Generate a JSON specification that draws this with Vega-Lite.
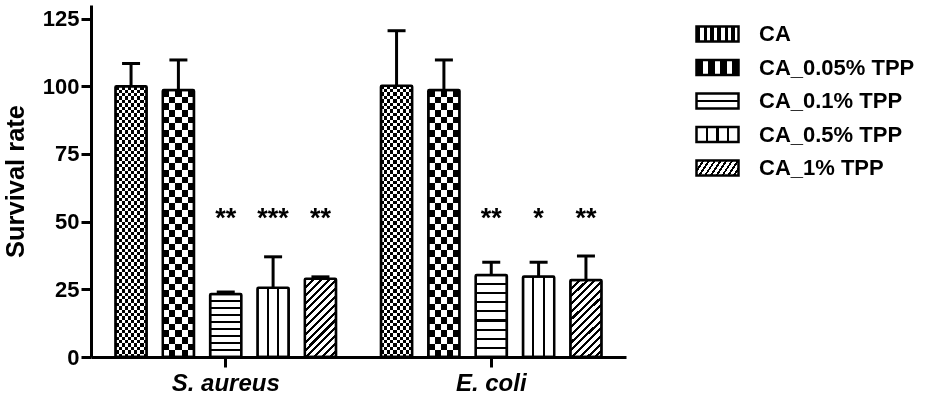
{
  "$schema": "https://vega.github.io/schema/vega-lite/v6.json",
  "width": 535,
  "height": 352,
  "autosize": "none",
  "padding": {"left": 91, "top": 5, "right": 303, "bottom": 38},
  "background": "white",
  "config": {
    "view": {"stroke": null},
    "font": "Liberation Sans",
    "axis": {"domainColor": "black", "domainWidth": 3, "tickColor": "black", "tickWidth": 3, "labelColor": "black", "labelFont": "Liberation Sans", "labelFontWeight": "bold", "titleFont": "Liberation Sans", "titleFontWeight": "bold", "titleColor": "black", "grid": false}
  },
  "data": {"values": [
    {"organism": "S. aureus", "group": "CA", "value": 100, "upper": 108.4, "stars": ""},
    {"organism": "S. aureus", "group": "CA_0.05% TPP", "value": 98.6, "upper": 109.7, "stars": ""},
    {"organism": "S. aureus", "group": "CA_0.1% TPP", "value": 23.3, "upper": 24, "stars": "**"},
    {"organism": "S. aureus", "group": "CA_0.5% TPP", "value": 25.6, "upper": 37, "stars": "***"},
    {"organism": "S. aureus", "group": "CA_1% TPP", "value": 28.9, "upper": 29.6, "stars": "**"},
    {"organism": "E. coli", "group": "CA", "value": 100.2, "upper": 120.5, "stars": ""},
    {"organism": "E. coli", "group": "CA_0.05% TPP", "value": 98.6, "upper": 109.7, "stars": ""},
    {"organism": "E. coli", "group": "CA_0.1% TPP", "value": 30.3, "upper": 35, "stars": "**"},
    {"organism": "E. coli", "group": "CA_0.5% TPP", "value": 29.7, "upper": 35, "stars": "*"},
    {"organism": "E. coli", "group": "CA_1% TPP", "value": 28.4, "upper": 37.3, "stars": "**"}
  ]},
  "encoding": {
    "x": {"field": "organism", "type": "nominal", "sort": ["S. aureus", "E. coli"], "scale": {"domain": ["S. aureus", "E. coli"], "paddingInner": 0.169, "paddingOuter": 0.092},
      "axis": {"title": null, "labelAngle": 0, "labelFontSize": 24, "labelFontStyle": "italic", "tickSize": 10, "labelPadding": 4}},
    "xOffset": {"field": "group", "type": "nominal", "scale": {"domain": ["CA", "CA_0.05% TPP", "CA_0.1% TPP", "CA_0.5% TPP", "CA_1% TPP"], "paddingInner": 0.34, "paddingOuter": 0}},
    "y": {"field": "value", "type": "quantitative", "scale": {"domain": [0, 130], "nice": false},
      "axis": {"values": [0, 25, 50, 75, 100, 125], "title": "Survival rate", "titleFontSize": 25.5, "titlePadding": 14, "labelFontSize": 22, "tickSize": 10, "labelPadding": 2}}
  },
  "layer": [
    {
      "mark": {"type": "bar", "opacity": 0},
      "encoding": {
        "fill": {"field": "group", "type": "nominal",
          "scale": {"domain": ["CA", "CA_0.05% TPP", "CA_0.1% TPP", "CA_0.5% TPP", "CA_1% TPP"],
            "range": [
              {"expr": "{gradient: 'linear', x1: 0, y1: 0, x2: 1, y2: 0, stops: [{offset: 0, color: '#000'}, {offset: 0.0833, color: '#000'}, {offset: 0.0833, color: '#fff'}, {offset: 0.1667, color: '#fff'}, {offset: 0.1667, color: '#000'}, {offset: 0.25, color: '#000'}, {offset: 0.25, color: '#fff'}, {offset: 0.3333, color: '#fff'}, {offset: 0.3333, color: '#000'}, {offset: 0.4167, color: '#000'}, {offset: 0.4167, color: '#fff'}, {offset: 0.5, color: '#fff'}, {offset: 0.5, color: '#000'}, {offset: 0.5833, color: '#000'}, {offset: 0.5833, color: '#fff'}, {offset: 0.6667, color: '#fff'}, {offset: 0.6667, color: '#000'}, {offset: 0.75, color: '#000'}, {offset: 0.75, color: '#fff'}, {offset: 0.8333, color: '#fff'}, {offset: 0.8333, color: '#000'}, {offset: 0.9167, color: '#000'}, {offset: 0.9167, color: '#fff'}, {offset: 1, color: '#fff'}]}"},
              {"expr": "{gradient: 'linear', x1: 0, y1: 0, x2: 1, y2: 0, stops: [{offset: 0, color: '#000'}, {offset: 0.1429, color: '#000'}, {offset: 0.1429, color: '#fff'}, {offset: 0.2857, color: '#fff'}, {offset: 0.2857, color: '#000'}, {offset: 0.4286, color: '#000'}, {offset: 0.4286, color: '#fff'}, {offset: 0.5714, color: '#fff'}, {offset: 0.5714, color: '#000'}, {offset: 0.7143, color: '#000'}, {offset: 0.7143, color: '#fff'}, {offset: 0.8571, color: '#fff'}, {offset: 0.8571, color: '#000'}, {offset: 1, color: '#000'}]}"},
              {"expr": "{gradient: 'linear', x1: 0, y1: 0, x2: 0, y2: 1, stops: [{offset: 0, color: '#fff'}, {offset: 0.42, color: '#fff'}, {offset: 0.42, color: '#000'}, {offset: 0.58, color: '#000'}, {offset: 0.58, color: '#fff'}, {offset: 1, color: '#fff'}]}"},
              {"expr": "{gradient: 'linear', x1: 0, y1: 0, x2: 1, y2: 0, stops: [{offset: 0, color: '#fff'}, {offset: 0.225, color: '#fff'}, {offset: 0.225, color: '#000'}, {offset: 0.275, color: '#000'}, {offset: 0.275, color: '#fff'}, {offset: 0.475, color: '#fff'}, {offset: 0.475, color: '#000'}, {offset: 0.525, color: '#000'}, {offset: 0.525, color: '#fff'}, {offset: 0.725, color: '#fff'}, {offset: 0.725, color: '#000'}, {offset: 0.775, color: '#000'}, {offset: 0.775, color: '#fff'}, {offset: 1, color: '#fff'}]}"},
              {"expr": "{gradient: 'linear', x1: 0, y1: 0, x2: 1.172, y2: 0.279, stops: [{offset: 0, color: '#000'}, {offset: 0.0444, color: '#000'}, {offset: 0.0444, color: '#fff'}, {offset: 0.1111, color: '#fff'}, {offset: 0.1111, color: '#000'}, {offset: 0.1556, color: '#000'}, {offset: 0.1556, color: '#fff'}, {offset: 0.2222, color: '#fff'}, {offset: 0.2222, color: '#000'}, {offset: 0.2667, color: '#000'}, {offset: 0.2667, color: '#fff'}, {offset: 0.3333, color: '#fff'}, {offset: 0.3333, color: '#000'}, {offset: 0.3778, color: '#000'}, {offset: 0.3778, color: '#fff'}, {offset: 0.4444, color: '#fff'}, {offset: 0.4444, color: '#000'}, {offset: 0.4889, color: '#000'}, {offset: 0.4889, color: '#fff'}, {offset: 0.5556, color: '#fff'}, {offset: 0.5556, color: '#000'}, {offset: 0.6, color: '#000'}, {offset: 0.6, color: '#fff'}, {offset: 0.6667, color: '#fff'}, {offset: 0.6667, color: '#000'}, {offset: 0.7111, color: '#000'}, {offset: 0.7111, color: '#fff'}, {offset: 0.7778, color: '#fff'}, {offset: 0.7778, color: '#000'}, {offset: 0.8222, color: '#000'}, {offset: 0.8222, color: '#fff'}, {offset: 0.8889, color: '#fff'}, {offset: 0.8889, color: '#000'}, {offset: 0.9333, color: '#000'}, {offset: 0.9333, color: '#fff'}, {offset: 1, color: '#fff'}]}"}
            ]},
          "legend": {"title": null, "orient": "none", "legendX": 615.5, "legendY": 18, "symbolType": "M-2.8,-1L2.8,-1L2.8,1L-2.8,1Z", "symbolSize": 225, "symbolOpacity": 1, "symbolStrokeColor": "black", "symbolStrokeWidth": 2.5, "labelFontSize": 22, "labelFont": "Liberation Sans", "labelFontWeight": "bold", "labelColor": "black", "labelOffset": 30.5, "rowPadding": 7.5, "labelLimit": 300, "padding": 0}
        }
      }
    },
    {
      "transform": [{"filter": "datum.group === 'CA'"}],
      "mark": {"type": "bar", "strokeWidth": 0, "fill": {"gradient": "linear", "x1": 0, "y1": 0, "x2": 1, "y2": 0, "stops": [{"offset": 0, "color": "#000"}, {"offset": 0.1, "color": "#000"}, {"offset": 0.1, "color": "#fff"}, {"offset": 0.2, "color": "#fff"}, {"offset": 0.2, "color": "#000"}, {"offset": 0.3, "color": "#000"}, {"offset": 0.3, "color": "#fff"}, {"offset": 0.4, "color": "#fff"}, {"offset": 0.4, "color": "#000"}, {"offset": 0.5, "color": "#000"}, {"offset": 0.5, "color": "#fff"}, {"offset": 0.6, "color": "#fff"}, {"offset": 0.6, "color": "#000"}, {"offset": 0.7, "color": "#000"}, {"offset": 0.7, "color": "#fff"}, {"offset": 0.8, "color": "#fff"}, {"offset": 0.8, "color": "#000"}, {"offset": 0.9, "color": "#000"}, {"offset": 0.9, "color": "#fff"}, {"offset": 1, "color": "#fff"}]}}
    },
    {
      "transform": [{"filter": "datum.group === 'CA_0.05% TPP'"}],
      "mark": {"type": "bar", "strokeWidth": 0, "fill": {"gradient": "linear", "x1": 0, "y1": 0, "x2": 1, "y2": 0, "stops": [{"offset": 0, "color": "#000"}, {"offset": 0.2, "color": "#000"}, {"offset": 0.2, "color": "#fff"}, {"offset": 0.4, "color": "#fff"}, {"offset": 0.4, "color": "#000"}, {"offset": 0.6, "color": "#000"}, {"offset": 0.6, "color": "#fff"}, {"offset": 0.8, "color": "#fff"}, {"offset": 0.8, "color": "#000"}, {"offset": 1, "color": "#000"}]}}
    },
    {
      "transform": [{"filter": "datum.group === 'CA_0.1% TPP'"}],
      "mark": {"type": "bar", "strokeWidth": 0, "fill": {"gradient": "linear", "x1": 0, "y1": 0, "x2": 0, "y2": 1, "stops": [{"offset": 0, "color": "#fff"}, {"offset": 0.0981, "color": "#fff"}, {"offset": 0.0981, "color": "#000"}, {"offset": 0.1241, "color": "#000"}, {"offset": 0.1241, "color": "#fff"}, {"offset": 0.2092, "color": "#fff"}, {"offset": 0.2092, "color": "#000"}, {"offset": 0.2352, "color": "#000"}, {"offset": 0.2352, "color": "#fff"}, {"offset": 0.3203, "color": "#fff"}, {"offset": 0.3203, "color": "#000"}, {"offset": 0.3463, "color": "#000"}, {"offset": 0.3463, "color": "#fff"}, {"offset": 0.4314, "color": "#fff"}, {"offset": 0.4314, "color": "#000"}, {"offset": 0.4574, "color": "#000"}, {"offset": 0.4574, "color": "#fff"}, {"offset": 0.5426, "color": "#fff"}, {"offset": 0.5426, "color": "#000"}, {"offset": 0.5686, "color": "#000"}, {"offset": 0.5686, "color": "#fff"}, {"offset": 0.6537, "color": "#fff"}, {"offset": 0.6537, "color": "#000"}, {"offset": 0.6797, "color": "#000"}, {"offset": 0.6797, "color": "#fff"}, {"offset": 0.7648, "color": "#fff"}, {"offset": 0.7648, "color": "#000"}, {"offset": 0.7908, "color": "#000"}, {"offset": 0.7908, "color": "#fff"}, {"offset": 0.8759, "color": "#fff"}, {"offset": 0.8759, "color": "#000"}, {"offset": 0.9019, "color": "#000"}, {"offset": 0.9019, "color": "#fff"}, {"offset": 1, "color": "#fff"}]}}
    },
    {
      "transform": [{"filter": "datum.group === 'CA_0.5% TPP'"}],
      "mark": {"type": "bar", "strokeWidth": 0, "fill": {"gradient": "linear", "x1": 0, "y1": 0, "x2": 1, "y2": 0, "stops": [{"offset": 0, "color": "#fff"}, {"offset": 0.3003, "color": "#fff"}, {"offset": 0.3003, "color": "#000"}, {"offset": 0.3663, "color": "#000"}, {"offset": 0.3663, "color": "#fff"}, {"offset": 0.6337, "color": "#fff"}, {"offset": 0.6337, "color": "#000"}, {"offset": 0.6997, "color": "#000"}, {"offset": 0.6997, "color": "#fff"}, {"offset": 1, "color": "#fff"}]}}
    },
    {
      "transform": [{"filter": "datum.group === 'CA_1% TPP'"}],
      "mark": {"type": "bar", "strokeWidth": 0, "fill": {"gradient": "linear", "x1": 0, "y1": 0, "x2": 0.483, "y2": 1.207, "stops": [{"offset": 0, "color": "#000"}, {"offset": 0.0286, "color": "#000"}, {"offset": 0.0286, "color": "#fff"}, {"offset": 0.0714, "color": "#fff"}, {"offset": 0.0714, "color": "#000"}, {"offset": 0.1, "color": "#000"}, {"offset": 0.1, "color": "#fff"}, {"offset": 0.1429, "color": "#fff"}, {"offset": 0.1429, "color": "#000"}, {"offset": 0.1714, "color": "#000"}, {"offset": 0.1714, "color": "#fff"}, {"offset": 0.2143, "color": "#fff"}, {"offset": 0.2143, "color": "#000"}, {"offset": 0.2429, "color": "#000"}, {"offset": 0.2429, "color": "#fff"}, {"offset": 0.2857, "color": "#fff"}, {"offset": 0.2857, "color": "#000"}, {"offset": 0.3143, "color": "#000"}, {"offset": 0.3143, "color": "#fff"}, {"offset": 0.3571, "color": "#fff"}, {"offset": 0.3571, "color": "#000"}, {"offset": 0.3857, "color": "#000"}, {"offset": 0.3857, "color": "#fff"}, {"offset": 0.4286, "color": "#fff"}, {"offset": 0.4286, "color": "#000"}, {"offset": 0.4571, "color": "#000"}, {"offset": 0.4571, "color": "#fff"}, {"offset": 0.5, "color": "#fff"}, {"offset": 0.5, "color": "#000"}, {"offset": 0.5286, "color": "#000"}, {"offset": 0.5286, "color": "#fff"}, {"offset": 0.5714, "color": "#fff"}, {"offset": 0.5714, "color": "#000"}, {"offset": 0.6, "color": "#000"}, {"offset": 0.6, "color": "#fff"}, {"offset": 0.6429, "color": "#fff"}, {"offset": 0.6429, "color": "#000"}, {"offset": 0.6714, "color": "#000"}, {"offset": 0.6714, "color": "#fff"}, {"offset": 0.7143, "color": "#fff"}, {"offset": 0.7143, "color": "#000"}, {"offset": 0.7429, "color": "#000"}, {"offset": 0.7429, "color": "#fff"}, {"offset": 0.7857, "color": "#fff"}, {"offset": 0.7857, "color": "#000"}, {"offset": 0.8143, "color": "#000"}, {"offset": 0.8143, "color": "#fff"}, {"offset": 0.8571, "color": "#fff"}, {"offset": 0.8571, "color": "#000"}, {"offset": 0.8857, "color": "#000"}, {"offset": 0.8857, "color": "#fff"}, {"offset": 0.9286, "color": "#fff"}, {"offset": 0.9286, "color": "#000"}, {"offset": 0.9571, "color": "#000"}, {"offset": 0.9571, "color": "#fff"}, {"offset": 1, "color": "#fff"}]}}
    },
    {
      "transform": [{"filter": "datum.group === 'CA'"}],
      "mark": {"type": "bar", "blend": "difference", "strokeWidth": 0, "fill": {"gradient": "linear", "x1": 0, "y1": 0, "x2": 0, "y2": 1, "stops": [
        {"offset": 0, "color": "#000"}, {"offset": 0.0125, "color": "#000"}, {"offset": 0.0125, "color": "#fff"}, {"offset": 0.025, "color": "#fff"},
        {"offset": 0.025, "color": "#000"}, {"offset": 0.0375, "color": "#000"}, {"offset": 0.0375, "color": "#fff"}, {"offset": 0.05, "color": "#fff"},
        {"offset": 0.05, "color": "#000"}, {"offset": 0.0625, "color": "#000"}, {"offset": 0.0625, "color": "#fff"}, {"offset": 0.075, "color": "#fff"},
        {"offset": 0.075, "color": "#000"}, {"offset": 0.0875, "color": "#000"}, {"offset": 0.0875, "color": "#fff"}, {"offset": 0.1, "color": "#fff"},
        {"offset": 0.1, "color": "#000"}, {"offset": 0.1125, "color": "#000"}, {"offset": 0.1125, "color": "#fff"}, {"offset": 0.125, "color": "#fff"},
        {"offset": 0.125, "color": "#000"}, {"offset": 0.1375, "color": "#000"}, {"offset": 0.1375, "color": "#fff"}, {"offset": 0.15, "color": "#fff"},
        {"offset": 0.15, "color": "#000"}, {"offset": 0.1625, "color": "#000"}, {"offset": 0.1625, "color": "#fff"}, {"offset": 0.175, "color": "#fff"},
        {"offset": 0.175, "color": "#000"}, {"offset": 0.1875, "color": "#000"}, {"offset": 0.1875, "color": "#fff"}, {"offset": 0.2, "color": "#fff"},
        {"offset": 0.2, "color": "#000"}, {"offset": 0.2125, "color": "#000"}, {"offset": 0.2125, "color": "#fff"}, {"offset": 0.225, "color": "#fff"},
        {"offset": 0.225, "color": "#000"}, {"offset": 0.2375, "color": "#000"}, {"offset": 0.2375, "color": "#fff"}, {"offset": 0.25, "color": "#fff"},
        {"offset": 0.25, "color": "#000"}, {"offset": 0.2625, "color": "#000"}, {"offset": 0.2625, "color": "#fff"}, {"offset": 0.275, "color": "#fff"},
        {"offset": 0.275, "color": "#000"}, {"offset": 0.2875, "color": "#000"}, {"offset": 0.2875, "color": "#fff"}, {"offset": 0.3, "color": "#fff"},
        {"offset": 0.3, "color": "#000"}, {"offset": 0.3125, "color": "#000"}, {"offset": 0.3125, "color": "#fff"}, {"offset": 0.325, "color": "#fff"},
        {"offset": 0.325, "color": "#000"}, {"offset": 0.3375, "color": "#000"}, {"offset": 0.3375, "color": "#fff"}, {"offset": 0.35, "color": "#fff"},
        {"offset": 0.35, "color": "#000"}, {"offset": 0.3625, "color": "#000"}, {"offset": 0.3625, "color": "#fff"}, {"offset": 0.375, "color": "#fff"},
        {"offset": 0.375, "color": "#000"}, {"offset": 0.3875, "color": "#000"}, {"offset": 0.3875, "color": "#fff"}, {"offset": 0.4, "color": "#fff"},
        {"offset": 0.4, "color": "#000"}, {"offset": 0.4125, "color": "#000"}, {"offset": 0.4125, "color": "#fff"}, {"offset": 0.425, "color": "#fff"},
        {"offset": 0.425, "color": "#000"}, {"offset": 0.4375, "color": "#000"}, {"offset": 0.4375, "color": "#fff"}, {"offset": 0.45, "color": "#fff"},
        {"offset": 0.45, "color": "#000"}, {"offset": 0.4625, "color": "#000"}, {"offset": 0.4625, "color": "#fff"}, {"offset": 0.475, "color": "#fff"},
        {"offset": 0.475, "color": "#000"}, {"offset": 0.4875, "color": "#000"}, {"offset": 0.4875, "color": "#fff"}, {"offset": 0.5, "color": "#fff"},
        {"offset": 0.5, "color": "#000"}, {"offset": 0.5125, "color": "#000"}, {"offset": 0.5125, "color": "#fff"}, {"offset": 0.525, "color": "#fff"},
        {"offset": 0.525, "color": "#000"}, {"offset": 0.5375, "color": "#000"}, {"offset": 0.5375, "color": "#fff"}, {"offset": 0.55, "color": "#fff"},
        {"offset": 0.55, "color": "#000"}, {"offset": 0.5625, "color": "#000"}, {"offset": 0.5625, "color": "#fff"}, {"offset": 0.575, "color": "#fff"},
        {"offset": 0.575, "color": "#000"}, {"offset": 0.5875, "color": "#000"}, {"offset": 0.5875, "color": "#fff"}, {"offset": 0.6, "color": "#fff"},
        {"offset": 0.6, "color": "#000"}, {"offset": 0.6125, "color": "#000"}, {"offset": 0.6125, "color": "#fff"}, {"offset": 0.625, "color": "#fff"},
        {"offset": 0.625, "color": "#000"}, {"offset": 0.6375, "color": "#000"}, {"offset": 0.6375, "color": "#fff"}, {"offset": 0.65, "color": "#fff"},
        {"offset": 0.65, "color": "#000"}, {"offset": 0.6625, "color": "#000"}, {"offset": 0.6625, "color": "#fff"}, {"offset": 0.675, "color": "#fff"},
        {"offset": 0.675, "color": "#000"}, {"offset": 0.6875, "color": "#000"}, {"offset": 0.6875, "color": "#fff"}, {"offset": 0.7, "color": "#fff"},
        {"offset": 0.7, "color": "#000"}, {"offset": 0.7125, "color": "#000"}, {"offset": 0.7125, "color": "#fff"}, {"offset": 0.725, "color": "#fff"},
        {"offset": 0.725, "color": "#000"}, {"offset": 0.7375, "color": "#000"}, {"offset": 0.7375, "color": "#fff"}, {"offset": 0.75, "color": "#fff"},
        {"offset": 0.75, "color": "#000"}, {"offset": 0.7625, "color": "#000"}, {"offset": 0.7625, "color": "#fff"}, {"offset": 0.775, "color": "#fff"},
        {"offset": 0.775, "color": "#000"}, {"offset": 0.7875, "color": "#000"}, {"offset": 0.7875, "color": "#fff"}, {"offset": 0.8, "color": "#fff"},
        {"offset": 0.8, "color": "#000"}, {"offset": 0.8125, "color": "#000"}, {"offset": 0.8125, "color": "#fff"}, {"offset": 0.825, "color": "#fff"},
        {"offset": 0.825, "color": "#000"}, {"offset": 0.8375, "color": "#000"}, {"offset": 0.8375, "color": "#fff"}, {"offset": 0.85, "color": "#fff"},
        {"offset": 0.85, "color": "#000"}, {"offset": 0.8625, "color": "#000"}, {"offset": 0.8625, "color": "#fff"}, {"offset": 0.875, "color": "#fff"},
        {"offset": 0.875, "color": "#000"}, {"offset": 0.8875, "color": "#000"}, {"offset": 0.8875, "color": "#fff"}, {"offset": 0.9, "color": "#fff"},
        {"offset": 0.9, "color": "#000"}, {"offset": 0.9125, "color": "#000"}, {"offset": 0.9125, "color": "#fff"}, {"offset": 0.925, "color": "#fff"},
        {"offset": 0.925, "color": "#000"}, {"offset": 0.9375, "color": "#000"}, {"offset": 0.9375, "color": "#fff"}, {"offset": 0.95, "color": "#fff"},
        {"offset": 0.95, "color": "#000"}, {"offset": 0.9625, "color": "#000"}, {"offset": 0.9625, "color": "#fff"}, {"offset": 0.975, "color": "#fff"},
        {"offset": 0.975, "color": "#000"}, {"offset": 0.9875, "color": "#000"}, {"offset": 0.9875, "color": "#fff"}, {"offset": 1, "color": "#fff"}
      ]}}
    },
    {
      "transform": [{"filter": "datum.group === 'CA_0.05% TPP'"}],
      "mark": {"type": "bar", "blend": "difference", "strokeWidth": 0, "fill": {"gradient": "linear", "x1": 0, "y1": 0, "x2": 0, "y2": 1, "stops": [
        {"offset": 0, "color": "#000"}, {"offset": 0.025, "color": "#000"}, {"offset": 0.025, "color": "#fff"}, {"offset": 0.05, "color": "#fff"},
        {"offset": 0.05, "color": "#000"}, {"offset": 0.075, "color": "#000"}, {"offset": 0.075, "color": "#fff"}, {"offset": 0.1, "color": "#fff"},
        {"offset": 0.1, "color": "#000"}, {"offset": 0.125, "color": "#000"}, {"offset": 0.125, "color": "#fff"}, {"offset": 0.15, "color": "#fff"},
        {"offset": 0.15, "color": "#000"}, {"offset": 0.175, "color": "#000"}, {"offset": 0.175, "color": "#fff"}, {"offset": 0.2, "color": "#fff"},
        {"offset": 0.2, "color": "#000"}, {"offset": 0.225, "color": "#000"}, {"offset": 0.225, "color": "#fff"}, {"offset": 0.25, "color": "#fff"},
        {"offset": 0.25, "color": "#000"}, {"offset": 0.275, "color": "#000"}, {"offset": 0.275, "color": "#fff"}, {"offset": 0.3, "color": "#fff"},
        {"offset": 0.3, "color": "#000"}, {"offset": 0.325, "color": "#000"}, {"offset": 0.325, "color": "#fff"}, {"offset": 0.35, "color": "#fff"},
        {"offset": 0.35, "color": "#000"}, {"offset": 0.375, "color": "#000"}, {"offset": 0.375, "color": "#fff"}, {"offset": 0.4, "color": "#fff"},
        {"offset": 0.4, "color": "#000"}, {"offset": 0.425, "color": "#000"}, {"offset": 0.425, "color": "#fff"}, {"offset": 0.45, "color": "#fff"},
        {"offset": 0.45, "color": "#000"}, {"offset": 0.475, "color": "#000"}, {"offset": 0.475, "color": "#fff"}, {"offset": 0.5, "color": "#fff"},
        {"offset": 0.5, "color": "#000"}, {"offset": 0.525, "color": "#000"}, {"offset": 0.525, "color": "#fff"}, {"offset": 0.55, "color": "#fff"},
        {"offset": 0.55, "color": "#000"}, {"offset": 0.575, "color": "#000"}, {"offset": 0.575, "color": "#fff"}, {"offset": 0.6, "color": "#fff"},
        {"offset": 0.6, "color": "#000"}, {"offset": 0.625, "color": "#000"}, {"offset": 0.625, "color": "#fff"}, {"offset": 0.65, "color": "#fff"},
        {"offset": 0.65, "color": "#000"}, {"offset": 0.675, "color": "#000"}, {"offset": 0.675, "color": "#fff"}, {"offset": 0.7, "color": "#fff"},
        {"offset": 0.7, "color": "#000"}, {"offset": 0.725, "color": "#000"}, {"offset": 0.725, "color": "#fff"}, {"offset": 0.75, "color": "#fff"},
        {"offset": 0.75, "color": "#000"}, {"offset": 0.775, "color": "#000"}, {"offset": 0.775, "color": "#fff"}, {"offset": 0.8, "color": "#fff"},
        {"offset": 0.8, "color": "#000"}, {"offset": 0.825, "color": "#000"}, {"offset": 0.825, "color": "#fff"}, {"offset": 0.85, "color": "#fff"},
        {"offset": 0.85, "color": "#000"}, {"offset": 0.875, "color": "#000"}, {"offset": 0.875, "color": "#fff"}, {"offset": 0.9, "color": "#fff"},
        {"offset": 0.9, "color": "#000"}, {"offset": 0.925, "color": "#000"}, {"offset": 0.925, "color": "#fff"}, {"offset": 0.95, "color": "#fff"},
        {"offset": 0.95, "color": "#000"}, {"offset": 0.975, "color": "#000"}, {"offset": 0.975, "color": "#fff"}, {"offset": 1, "color": "#fff"}
      ]}}
    },
    {
      "mark": {"type": "bar", "fill": "transparent", "stroke": "black", "strokeWidth": 2.5, "cornerRadius": 1}
    },
    {
      "mark": {"type": "rule", "color": "black", "strokeWidth": 3},
      "encoding": {"y2": {"field": "upper"}}
    },
    {
      "mark": {"type": "tick", "orient": "horizontal", "size": 18, "thickness": 3, "color": "black", "opacity": 1},
      "encoding": {"y": {"field": "upper", "type": "quantitative"}}
    },
    {
      "mark": {"type": "text", "font": "Liberation Sans", "fontSize": 27, "fontWeight": "bold", "baseline": "alphabetic", "color": "black"},
      "encoding": {"y": {"datum": 48}, "text": {"field": "stars"}}
    }
  ]
}
